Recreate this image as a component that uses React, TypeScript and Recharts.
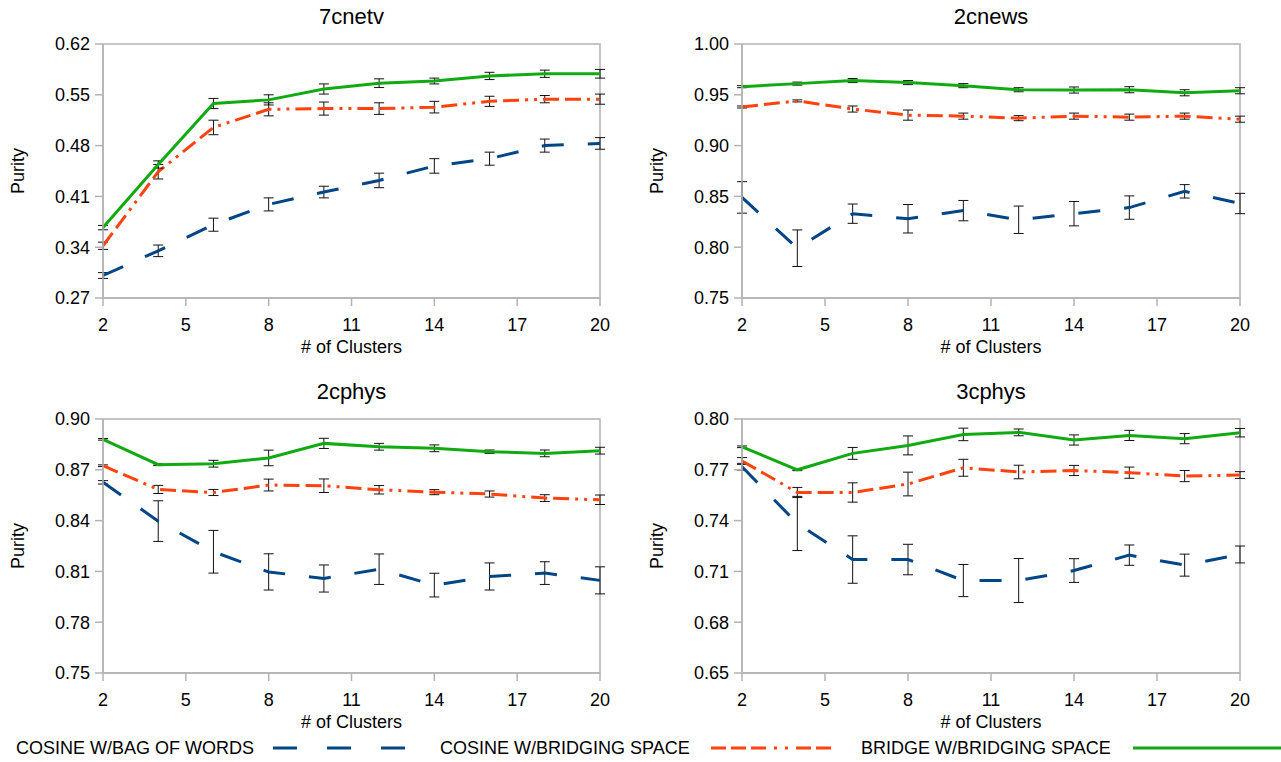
import { LineChart, Line, XAxis, YAxis, ErrorBar, ReferenceArea } from 'recharts';

const clusters = [2, 4, 6, 8, 10, 12, 14, 16, 18, 20];
const xTicks = [2, 5, 8, 11, 14, 17, 20];

// 7cnetv
const netvBow = [0.301, 0.335, 0.371, 0.399, 0.416, 0.432, 0.452, 0.462, 0.48, 0.483];
const netvBowErr = [0.004, 0.008, 0.009, 0.009, 0.008, 0.01, 0.01, 0.009, 0.009, 0.008];
const netvCbs = [0.342, 0.444, 0.505, 0.53, 0.531, 0.531, 0.533, 0.541, 0.544, 0.544];
const netvCbsErr = [0.005, 0.01, 0.01, 0.009, 0.009, 0.008, 0.008, 0.007, 0.005, 0.007];
const netvBbs = [0.367, 0.454, 0.538, 0.543, 0.558, 0.566, 0.569, 0.576, 0.579, 0.579];
const netvBbsErr = [0.003, 0.005, 0.007, 0.007, 0.007, 0.006, 0.004, 0.005, 0.005, 0.006];

// 2cnews
const newsBow = [0.849, 0.799, 0.833, 0.828, 0.836, 0.827, 0.833, 0.839, 0.855, 0.843];
const newsBowErr = [0.0155, 0.018, 0.0095, 0.014, 0.01, 0.0135, 0.012, 0.0115, 0.0066, 0.01];
const newsCbs = [0.938, 0.944, 0.936, 0.93, 0.929, 0.927, 0.929, 0.928, 0.929, 0.926];
const newsCbsErr = [0.001, 0.001, 0.003, 0.005, 0.003, 0.0025, 0.003, 0.003, 0.003, 0.003];
const newsBbs = [0.958, 0.961, 0.964, 0.962, 0.959, 0.955, 0.9547, 0.955, 0.952, 0.954];
const newsBbsErr = [0.001, 0.0015, 0.002, 0.002, 0.002, 0.002, 0.003, 0.003, 0.003, 0.003];

// 2cphys
const phys2Bow = [0.8626, 0.8397, 0.8216, 0.8097, 0.8058, 0.8113, 0.8019, 0.807, 0.809, 0.8047];
const phys2BowErr = [0.001, 0.012, 0.0126, 0.0107, 0.008, 0.009, 0.007, 0.008, 0.0067, 0.008];
const phys2Cbs = [0.8724, 0.8584, 0.8566, 0.861, 0.8606, 0.8582, 0.8568, 0.8557, 0.8533, 0.8523];
const phys2CbsErr = [0.0005, 0.0024, 0.0018, 0.0035, 0.004, 0.0025, 0.0015, 0.0018, 0.002, 0.0028];
const phys2Bbs = [0.888, 0.873, 0.8736, 0.877, 0.8856, 0.8836, 0.8827, 0.8807, 0.8797, 0.8813];
const phys2BbsErr = [0.0005, 0.0005, 0.002, 0.0046, 0.003, 0.002, 0.002, 0.001, 0.002, 0.002];

// 3cphys
const phys3Bow = [0.7718, 0.7383, 0.717, 0.717, 0.7046, 0.7046, 0.7105, 0.7196, 0.7137, 0.72];
const phys3BowErr = [0.002, 0.016, 0.014, 0.009, 0.0095, 0.013, 0.007, 0.006, 0.0065, 0.005];
const phys3Cbs = [0.7752, 0.7566, 0.7566, 0.7616, 0.7712, 0.7687, 0.7696, 0.7683, 0.7663, 0.7669];
const phys3CbsErr = [0.002, 0.003, 0.0057, 0.007, 0.005, 0.004, 0.003, 0.0033, 0.0033, 0.002];
const phys3Bbs = [0.7836, 0.77, 0.7797, 0.7844, 0.7909, 0.7921, 0.7876, 0.7903, 0.7884, 0.7919];
const phys3BbsErr = [0.0005, 0.0005, 0.0035, 0.0056, 0.0037, 0.002, 0.003, 0.003, 0.003, 0.0025];

const netvTicks = [0.27, 0.34, 0.41, 0.48, 0.55, 0.62];
const newsTicks = [0.75, 0.8, 0.85, 0.9, 0.95, 1.0];
const phys2Ticks = [0.75, 0.78, 0.81, 0.84, 0.87, 0.9];
const phys3Ticks = [0.65, 0.68, 0.71, 0.74, 0.77, 0.8];

const BLUE = '#004586';
const RED = '#ff420e';
const GREEN = '#12aa12';
const FRAME = '#b3b3b3';
const FONT = '"Liberation Sans", Arial, sans-serif';

const BLUE_DASH = '22 24';
const RED_DASH = '16 6 16 6 3 6 3 6';

function buildRows(bow: number[], bowErr: number[], cbs: number[], cbsErr: number[], bbs: number[], bbsErr: number[]) {
  return clusters.map((c, i) => ({
    c,
    bow: bow[i],
    bowErr: bowErr[i],
    cbs: cbs[i],
    cbsErr: cbsErr[i],
    bbs: bbs[i],
    bbsErr: bbsErr[i],
  }));
}

interface PanelProps {
  title: string;
  rows: ReturnType<typeof buildRows>;
  yTicks: number[];
  left: number;
  top: number;
  width: number;
  marginLeft: number;
  marginRight: number;
}

function Panel({ title, rows, yTicks, left, top, width, marginLeft, marginRight }: PanelProps) {
  const yMin = yTicks[0];
  const yMax = yTicks[yTicks.length - 1];
  const plotLeft = marginLeft + 60;
  const plotCenter = (plotLeft + width - marginRight) / 2;
  return (
    <div style={{ position: 'absolute', left, top, width, height: 360 }}>
      <LineChart width={width} height={360} data={rows} margin={{ top: 44, right: marginRight, left: marginLeft, bottom: 32 }}>
        <ReferenceArea x1={2} x2={20} y1={yMin} y2={yMax} fill="none" stroke={FRAME} strokeWidth={1.5} ifOverflow="visible" />
        <XAxis
          type="number"
          dataKey="c"
          domain={[2, 20]}
          ticks={xTicks}
          interval={0}
          height={30}
          tickSize={8}
          tickMargin={12}
          stroke={FRAME}
          strokeWidth={1.5}
          tick={{ fill: '#000', fontSize: 18, fontFamily: FONT }}
        />
        <YAxis
          type="number"
          domain={[yMin, yMax]}
          ticks={yTicks}
          interval={0}
          width={60}
          tickSize={8}
          tickMargin={5}
          stroke={FRAME}
          strokeWidth={1.5}
          tickFormatter={(v: number) => v.toFixed(2)}
          tick={{ fill: '#000', fontSize: 18, fontFamily: FONT }}
        />
        <Line type="linear" dataKey="bow" stroke={BLUE} strokeWidth={3} strokeDasharray={BLUE_DASH} dot={false} isAnimationActive={false}>
          <ErrorBar dataKey="bowErr" direction="y" width={5} stroke="#111" strokeWidth={1} />
        </Line>
        <Line type="linear" dataKey="cbs" stroke={RED} strokeWidth={3} strokeDasharray={RED_DASH} dot={false} isAnimationActive={false}>
          <ErrorBar dataKey="cbsErr" direction="y" width={5} stroke="#111" strokeWidth={1} />
        </Line>
        <Line type="linear" dataKey="bbs" stroke={GREEN} strokeWidth={3} dot={false} isAnimationActive={false}>
          <ErrorBar dataKey="bbsErr" direction="y" width={5} stroke="#111" strokeWidth={1} />
        </Line>
      </LineChart>
      <div style={{ position: 'absolute', left: plotCenter - 150, width: 300, top: 4, textAlign: 'center', fontSize: 22, fontFamily: FONT, lineHeight: '26px' }}>
        {title}
      </div>
      <div style={{ position: 'absolute', left: plotCenter - 150, width: 300, top: 336, textAlign: 'center', fontSize: 18, fontFamily: FONT, lineHeight: '22px' }}>
        # of Clusters
      </div>
      <div
        style={{
          position: 'absolute',
          left: plotLeft - 85 - 50,
          top: 171 - 11,
          width: 100,
          textAlign: 'center',
          fontSize: 18,
          fontFamily: FONT,
          lineHeight: '22px',
          transform: 'rotate(-90deg)',
        }}
      >
        Purity
      </div>
    </div>
  );
}

function LegendItem({ label, textLeft, lineLeft, lineWidth, color, dash }: { label: string; textLeft: number; lineLeft: number; lineWidth: number; color: string; dash?: string }) {
  return (
    <>
      <div style={{ position: 'absolute', left: textLeft, top: 737, fontSize: 18, fontFamily: FONT, lineHeight: '22px', whiteSpace: 'nowrap' }}>{label}</div>
      <svg style={{ position: 'absolute', left: lineLeft, top: 740 }} width={lineWidth} height={16}>
        <line x1={0} y1={8} x2={lineWidth} y2={8} stroke={color} strokeWidth={3} strokeDasharray={dash} />
      </svg>
    </>
  );
}

export default function App() {
  return (
    <div style={{ position: 'relative', width: 1281, height: 762, background: '#fff', overflow: 'hidden' }}>
      <style>{'body{margin:0}'}</style>
      <Panel title="7cnetv" rows={buildRows(netvBow, netvBowErr, netvCbs, netvCbsErr, netvBbs, netvBbsErr)} yTicks={netvTicks} left={0} top={0} width={640} marginLeft={43} marginRight={40} />
      <Panel title="2cnews" rows={buildRows(newsBow, newsBowErr, newsCbs, newsCbsErr, newsBbs, newsBbsErr)} yTicks={newsTicks} left={640} top={0} width={641} marginLeft={42} marginRight={41} />
      <Panel title="2cphys" rows={buildRows(phys2Bow, phys2BowErr, phys2Cbs, phys2CbsErr, phys2Bbs, phys2BbsErr)} yTicks={phys2Ticks} left={0} top={375} width={640} marginLeft={43} marginRight={40} />
      <Panel title="3cphys" rows={buildRows(phys3Bow, phys3BowErr, phys3Cbs, phys3CbsErr, phys3Bbs, phys3BbsErr)} yTicks={phys3Ticks} left={640} top={375} width={641} marginLeft={42} marginRight={41} />
      <LegendItem label="COSINE W/BAG OF WORDS" textLeft={16} lineLeft={273} lineWidth={140} color={BLUE} dash="24 30" />
      <LegendItem label="COSINE W/BRIDGING SPACE" textLeft={440} lineLeft={711} lineWidth={121} color={RED} dash="15 5 15 5 15 8 3 8 3 8" />
      <LegendItem label="BRIDGE W/BRIDGING SPACE" textLeft={861} lineLeft={1133} lineWidth={148} color={GREEN} />
    </div>
  );
}
